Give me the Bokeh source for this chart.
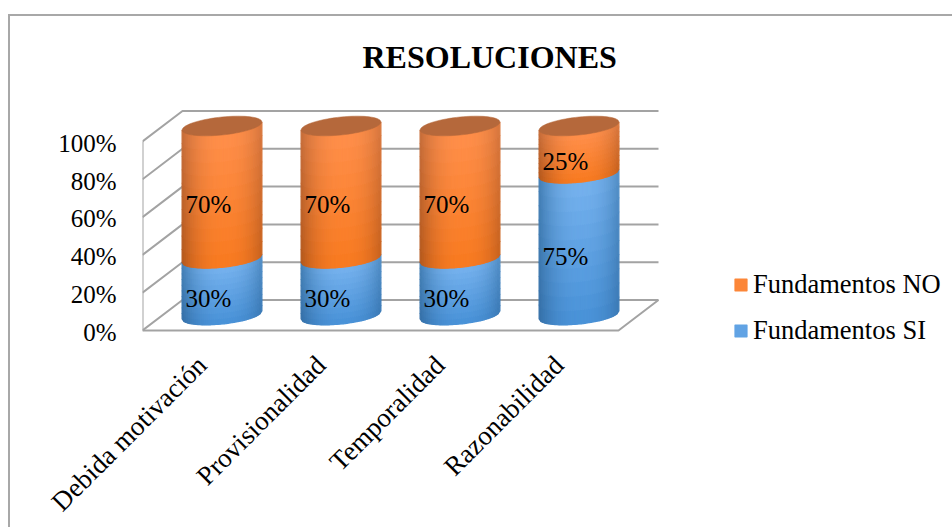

import math
from bokeh.plotting import figure
from bokeh.embed import file_html
from bokeh.resources import INLINE
from bokeh.core.properties import value
from bokeh.models import (Range1d, FixedTicker, PrintfTickFormatter, Legend, LegendItem)

TITLE = "RESOLUCIONES"
categories = ["Debida motivación", "Provisionalidad", "Temporalidad", "Razonabilidad"]
fundamentos_si = [30, 30, 30, 75]
fundamentos_no = [70, 70, 70, 25]
y_ticks = [0, 20, 40, 60, 80, 100]
FONT = "Liberation Serif"

# 3D projection, expressed in data units (x: category, y: percent)
PX_X, PX_Y = 119.0, 1.89
DX, DY = 40.0 / PX_X, 30.5 / PX_Y          # depth of the chart box
CX, CY = 20.0 / PX_X, 15.5 / PX_Y          # cylinder axis offset from the front plane
RX = 39.9 / PX_X                           # cylinder radius
RY, SHEAR = 9.0 / PX_Y, 4.0 / PX_Y         # ellipse half-height and tilt

W, H = 952, 527
ML, MT = 142, 85
BELOW = 18                                  # frame reaches this many px below the floor
MB = H - 330 - BELOW
fw, fh = W - ML, H - MT - MB

BORDER = "linear-gradient(#a8a8a8,#a8a8a8)"
LABEL_SHIFT = 1.0                           # tick labels sit a little under their gridline
y_start, y_end = -BELOW / PX_Y, (fh - BELOW) / PX_Y
p = figure(width=W, height=H, frame_width=fw, frame_height=fh,
           output_backend="svg", toolbar_location=None,
           x_range=Range1d(-0.5, -0.5 + fw / PX_X),
           y_range=Range1d(y_start, y_end),
           extra_y_ranges={"labels": Range1d(y_start + LABEL_SHIFT, y_end + LABEL_SHIFT)},
           min_border_left=ML, min_border_top=MT, min_border_bottom=0, min_border_right=0,
           outline_line_color=None, background_fill_color=None, border_fill_color=None,
           styles={"background-color": "white",
                   "background-image": f"{BORDER},{BORDER}",
                   "background-size": "100% 2px,2px 100%",
                   "background-position": "8px 14px,8px 14px",
                   "background-repeat": "no-repeat"})
p.grid.visible = False

# title
p.title.text = TITLE
p.title.text_font = FONT
p.title.text_font_size = "32px"
p.title.text_font_style = "bold"
p.title.text_color = "black"
p.title.align = "left"
p.title.offset = 220
p.title.standoff = 21

# axes
ya = p.yaxis[0]
ya.y_range_name = "labels"
ya.ticker = FixedTicker(ticks=y_ticks)
ya.formatter = PrintfTickFormatter(format="%d%%")
ya.major_label_text_font = FONT
ya.major_label_text_font_size = "25px"
ya.major_label_text_color = "black"
ya.major_label_standoff = 20
ya.axis_line_color = None
ya.major_tick_line_color = None
ya.minor_tick_line_color = None

xa = p.xaxis[0]
xa.ticker = FixedTicker(ticks=list(range(len(categories))))
xa.major_label_overrides = {i: c for i, c in enumerate(categories)}
xa.major_label_orientation = math.pi / 4
xa.major_label_text_font = FONT
xa.major_label_text_font_size = "27px"
xa.major_label_text_color = "black"
xa.major_label_standoff = 6
xa.axis_line_color = None
xa.major_tick_line_color = None
xa.minor_tick_line_color = None

# chart box: walls, floor, gridlines
GRID = "#a3a3a3"
x0, x1 = -0.5, len(categories) - 0.5
xs, ys = [], []
for t in y_ticks:
    xs.append([x0, x0 + DX, x1 + DX])
    ys.append([t, t + DY, t + DY])
xs.append([x0, x0, x1, x1 + DX])
ys.append([y_ticks[-1], 0, 0, DY])
p.multi_line(xs, ys, line_color=GRID, line_width=2)


def mix(a, b, f):
    return tuple(a[i] + (b[i] - a[i]) * f for i in range(3))


def hexc(c):
    return "#%02x%02x%02x" % tuple(int(round(max(0, min(255, v)))) for v in c)


PALETTE = {
    "no": dict(edge_t=(196, 108, 58), edge_b=(176, 86, 28), mid_t=(255, 143, 75), mid_b=(248, 122, 32)),
    "si": dict(edge_t=(66, 126, 180), edge_b=(52, 110, 165), mid_t=(118, 178, 238), mid_b=(72, 145, 215)),
}
COLS, ROWS = 40, 10


def front(u):
    return -RY * math.sqrt(max(0.0, 1 - u * u)) + SHEAR * u


def segment(cx, base, top, key):
    """Shaded strips between percent values base and top of one cylinder."""
    out_x, out_y, cols = [], [], []
    pal = PALETTE[key]
    for c in range(COLS):
        u0, u1 = -1 + 2 * c / COLS, -1 + 2 * (c + 1) / COLS
        um = (u0 + u1) / 2
        f = 1 - min(1.0, abs(um - 0.08) / 1.08) ** 2.4
        for r in range(ROWS):
            v0, v1 = r / ROWS, (r + 1) / ROWS
            vm = (v0 + v1) / 2
            y0 = base + (top - base) * v0 + CY
            y1 = base + (top - base) * v1 + CY
            out_x.append([cx + u0 * RX, cx + u1 * RX, cx + u1 * RX, cx + u0 * RX])
            out_y.append([y0 + front(u0), y0 + front(u1), y1 + front(u1), y1 + front(u0)])
            edge = mix(pal["edge_b"], pal["edge_t"], vm)
            mid = mix(pal["mid_b"], pal["mid_t"], vm)
            cols.append(hexc(mix(edge, mid, f)))
    return out_x, out_y, cols


legend_renderers = {}
for i, (si, no) in enumerate(zip(fundamentos_si, fundamentos_no)):
    cx = i + CX
    for key, base, top in (("si", 0, si), ("no", si, si + no)):
        sx, sy, sc = segment(cx, base, top, key)
        r = p.patches(sx, sy, fill_color=sc, line_color=sc, line_width=1.2)
        legend_renderers.setdefault(key, r)
    # top cap
    n = 72
    ang = [2 * math.pi * k / n for k in range(n)]
    p.patch([cx + RX * math.cos(a) for a in ang],
            [si + no + CY + RY * math.sin(a) + SHEAR * math.cos(a) for a in ang],
            fill_color="#b5683b", line_color="#b5683b", line_width=0.5)

# data labels
lx, ly, lt = [], [], []
LABEL_DROP = 6.3
for i, (si, no) in enumerate(zip(fundamentos_si, fundamentos_no)):
    for base, v in ((0, si), (si, no)):
        lx.append(i + CX - RX + 3.5 / PX_X)
        ly.append(base + v / 2 + CY - LABEL_DROP)
        lt.append(f"{v}%")
p.text(lx, ly, text=lt, text_font=value(FONT), text_font_size="25px", text_color="black",
       text_align="left", text_baseline="middle")

# legend: swatches come from a mid-body strip of the first cylinder
swatch = COLS // 2 * ROWS + ROWS // 2
legend = Legend(items=[LegendItem(label="Fundamentos NO", renderers=[legend_renderers["no"]], index=swatch),
                       LegendItem(label="Fundamentos SI", renderers=[legend_renderers["si"]], index=swatch)],
                location=(591, 2), orientation="vertical",
                glyph_width=15, glyph_height=15, label_standoff=5, spacing=15,
                padding=0, margin=0, border_line_color=None, background_fill_alpha=0,
                label_text_font=FONT, label_text_font_size="26.5px", label_text_color="black")
p.add_layout(legend)

open("out.html", "w").write(file_html(p, INLINE))
